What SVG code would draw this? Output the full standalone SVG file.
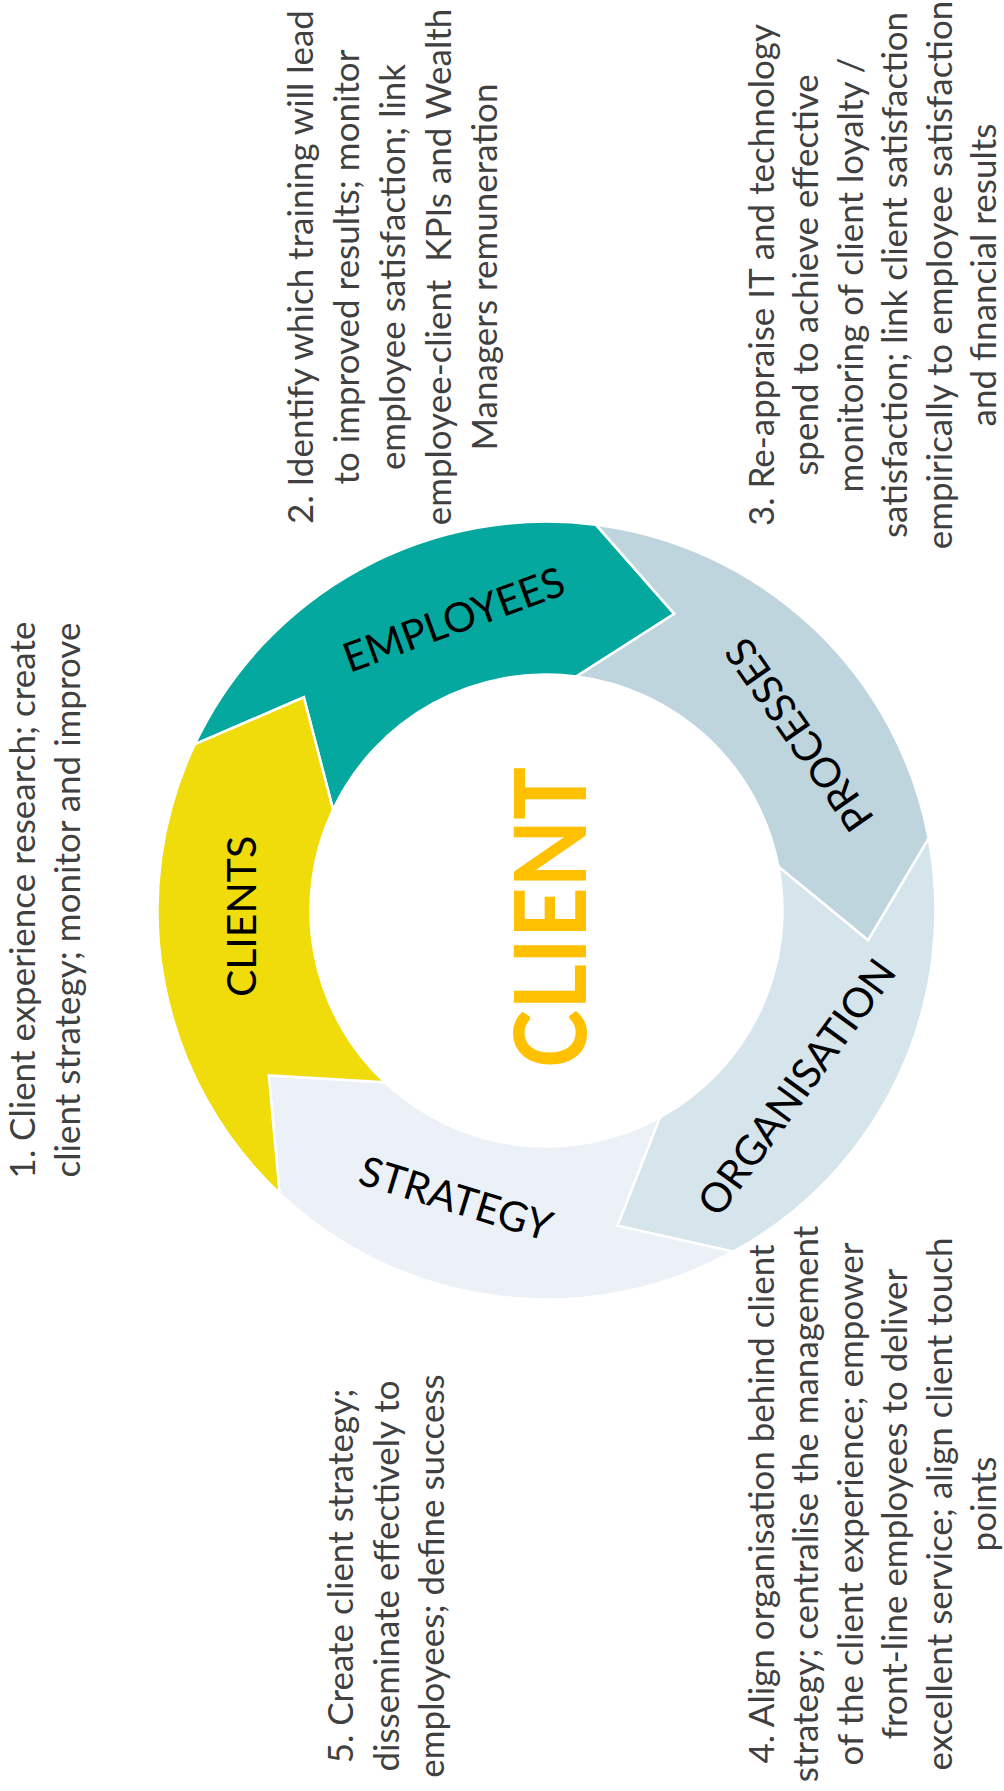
<svg xmlns="http://www.w3.org/2000/svg" width="1004" height="1791" viewBox="0 0 1004 1791">
  <style>
    .seg { stroke: #ffffff; stroke-width: 2.5; stroke-linejoin: miter; }
    .lbl { font-family: Lato, "Liberation Sans", sans-serif; font-size: 41px; fill: #000000; text-anchor: middle; }
    .desc { font-family: Lato, "Liberation Sans", sans-serif; font-weight: 400; font-size: 35px; fill: #404040; text-anchor: middle; }
    .hub { font-family: Lato, "Liberation Sans", sans-serif; font-weight: 700; font-size: 100px; fill: #FFC000; text-anchor: middle; }
  </style>
  <rect width="1004" height="1791" fill="#ffffff"/>

  <!-- ring of five chevron segments, centre (546.5, 910.5), radii 389 / 236 -->
  <g id="node-employees">
    <path class="seg" fill="#05A89E" d="M 194.8 744.3 A 389 389 0 0 1 595.9 524.7 L 674.3 613.8 L 576.5 676.4 A 236 236 0 0 0 333.1 809.6 L 303.8 697.3 Z"/>
    <text class="lbl" transform="translate(453.6,619.3) rotate(-20)" y="14.7">EMPLOYEES</text>
  </g>
  <g id="node-processes">
    <path class="seg" fill="#BFD5DE" d="M 595.9 524.7 A 389 389 0 0 1 928.7 838.3 L 868.1 940.3 L 778.4 866.7 A 236 236 0 0 0 576.5 676.4 L 674.3 613.8 Z"/>
    <text class="lbl" transform="translate(799,735) rotate(-125)" y="14.7">PROCESSES</text>
  </g>
  <g id="node-organisation">
    <path class="seg" fill="#D6E4EC" d="M 928.7 838.3 A 389 389 0 0 1 733.3 1251.7 L 617.5 1225.6 L 659.8 1117.5 A 236 236 0 0 0 778.4 866.7 L 868.1 940.3 Z"/>
    <text class="lbl" transform="translate(796.4,1087) rotate(-54)" y="14.7">ORGANISATION</text>
  </g>
  <g id="node-strategy">
    <path class="seg" fill="#EBF1F6" d="M 733.3 1251.7 A 389 389 0 0 1 279.6 1193.5 L 268.8 1075.4 L 384.6 1082.2 A 236 236 0 0 0 659.8 1117.5 L 617.5 1225.6 Z"/>
    <text class="lbl" transform="translate(456.1,1198.4) rotate(17)" y="14.7">STRATEGY</text>
  </g>
  <g id="node-clients">
    <path class="seg" fill="#F0DB0B" d="M 279.6 1193.5 A 389 389 0 0 1 194.8 744.3 L 303.8 697.3 L 333.1 809.6 A 236 236 0 0 0 384.6 1082.2 L 268.8 1075.4 Z"/>
    <text class="lbl" transform="translate(240.8,916.5) rotate(-90)" y="14.7">CLIENTS</text>
  </g>

  <!-- hub title -->
  <g id="node-client">
    <text class="hub" transform="translate(550.5,917.5) rotate(-90)" y="35.7" textLength="301" lengthAdjust="spacingAndGlyphs">CLIENT</text>
  </g>

  <!-- step descriptions, set vertically -->
  <g id="note-1" transform="translate(35,900) rotate(-90)">
    <text class="desc" y="0">1. Client experience research; create</text>
    <text class="desc" y="45">client strategy; monitor and improve</text>
  </g>
  <g id="note-2" transform="translate(313,267) rotate(-90)">
    <text class="desc" y="0">2. Identify which training will lead</text>
    <text class="desc" y="46">to improved results; monitor</text>
    <text class="desc" y="92">employee satisfaction; link</text>
    <text class="desc" y="138" xml:space="preserve">employee-client  KPIs and Wealth</text>
    <text class="desc" y="184">Managers remuneration</text>
  </g>
  <g id="note-3" transform="translate(774,275) rotate(-90)">
    <text class="desc" y="0">3. Re-appraise IT and technology</text>
    <text class="desc" y="44.4">spend to achieve effective</text>
    <text class="desc" y="88.8">monitoring of client loyalty /</text>
    <text class="desc" y="133.2">satisfaction; link client satisfaction</text>
    <text class="desc" y="177.6">empirically to employee satisfaction</text>
    <text class="desc" y="222">and financial results</text>
  </g>
  <g id="note-4" transform="translate(774,1504) rotate(-90)">
    <text class="desc" y="0">4. Align organisation behind client</text>
    <text class="desc" y="44.4">strategy; centralise the management</text>
    <text class="desc" y="88.8">of the client experience; empower</text>
    <text class="desc" y="133.2">front-line employees to deliver</text>
    <text class="desc" y="177.6">excellent service; align client touch</text>
    <text class="desc" y="222">points</text>
  </g>
  <g id="note-5" transform="translate(353,1576) rotate(-90)">
    <text class="desc" y="0">5. Create client strategy;</text>
    <text class="desc" y="45.5">disseminate effectively to</text>
    <text class="desc" y="91">employees; define success</text>
  </g>
</svg>
